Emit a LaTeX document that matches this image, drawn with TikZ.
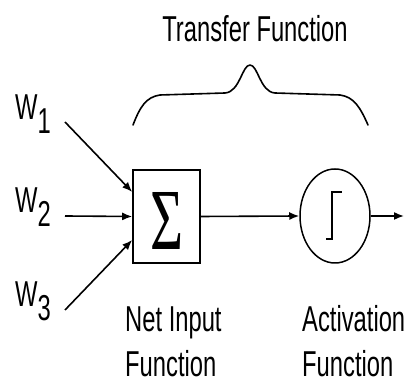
\documentclass[tikz,border=0pt]{standalone}
\usepackage{fontspec}
\usepackage{graphicx}
\usetikzlibrary{positioning,arrows.meta,calc,shapes.geometric}
\newfontfamily\narrowsans[FakeStretch=0.66]{Liberation Sans}
\newfontfamily\sigmafont{Liberation Serif}
\tikzset{
  lbl/.style={font=\narrowsans\fontsize{36}{45}\selectfont, inner sep=0pt, anchor=base west},
  sumbox/.style={draw, line width=1.6pt, minimum width=67pt, minimum height=93pt,
                 inner sep=0pt},
  actnode/.style={ellipse, draw, line width=1.5pt, minimum width=70pt,
                  minimum height=94pt, inner sep=0pt},
  edge/.style={-{Latex[length=10pt,width=8pt]}, line width=1.6pt},
  brace/.style={line width=1.6pt, line join=round, line cap=round},
  stepfn/.style={line width=2pt}
}
\newcommand{\subdig}[1]{\raisebox{-14pt}{#1}}

\begin{document}
\begin{tikzpicture}[x=1pt, y=1pt]
\useasboundingbox (0,0) rectangle (412,387);
% neuron parts
\node[sumbox] (sum) at (166.5,170.5) {};
\node[inner sep=0pt] (sigma) at (166.5,165.5) {\resizebox{33pt}{57pt}{\sigmafont Σ}};
\node[actnode] (act) at (335,171) {};
\coordinate (out) at (404,171);
\draw[stepfn] ($(act.center)+(-9,-23)$) -- ++(6,0) -- ++(0,47) -- ++(10,0);
% inputs
\node[lbl] (w1) at (15,267) {W\subdig{1}};
\node[lbl] (w2) at (15,174) {W\subdig{2}};
\node[lbl] (w3) at (15,80) {W\subdig{3}};
\coordinate (in1) at (65,265);
\coordinate (in2) at (65,171);
\coordinate (in3) at (65,77);
\draw[edge] (in1) -- ($(sum.west)+(0,24.5)$);
\draw[edge] (in2) -- (sum.west);
\draw[edge] (in3) -- ($(sum.west)+(0,-23.5)$);
\draw[edge] (sum.east) -- (act.west);
\draw[edge] (act.east) -- (out);
% brace and labels
\draw[brace] (133,262) .. controls (140,280) and (146,290) .. (160,292)
  -- (225,294) .. controls (240,295) and (242,322) .. (250,322)
  .. controls (258,322) and (260,295) .. (275,294)
  -- (340,292) .. controls (354,290) and (360,280) .. (368,262);
\node[lbl, anchor=base] (title) at (255,345) {Transfer Function};
\node[lbl] (netin) at (125,55) {Net Input};
\node[lbl] (netfn) at ($(netin.base west)+(0,-45)$) {Function};
\node[lbl] (actv) at (302,55) {Activation};
\node[lbl] (actfn) at ($(actv.base west)+(0,-45)$) {Function};
\end{tikzpicture}
\end{document}
